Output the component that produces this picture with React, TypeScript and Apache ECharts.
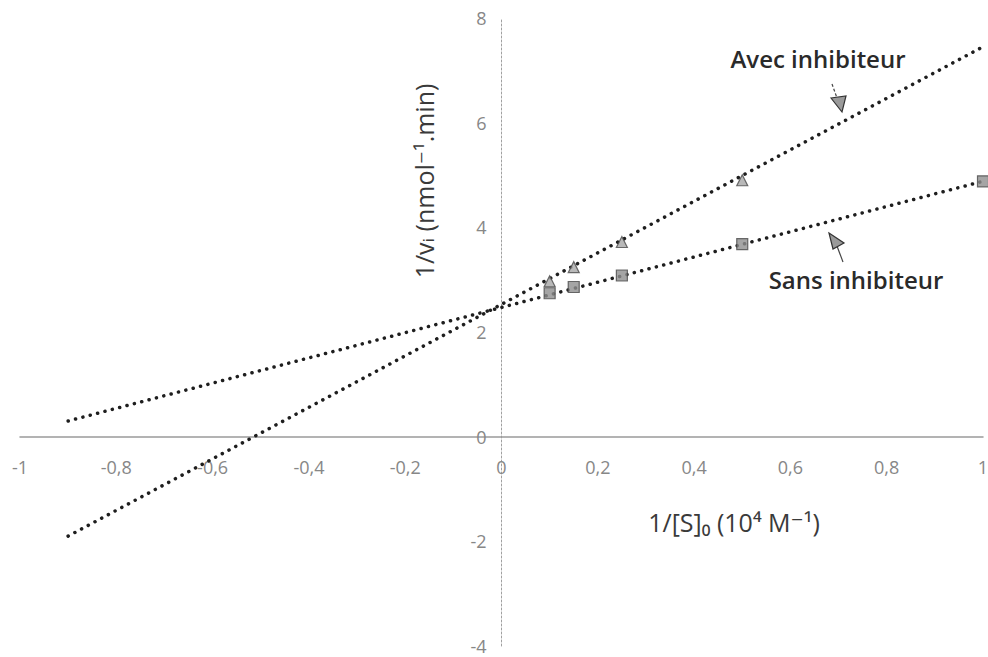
import React, { useEffect, useRef } from "react";
import * as echarts from "echarts";

const xTickLabels = ["-1", "-0,8", "-0,6", "-0,4", "-0,2", "0", "0,2", "0,4", "0,6", "0,8", "1"];
const yTickLabels = ["-4", "-2", "0", "2", "4", "6", "8"];

const sansX = [0.1, 0.15, 0.25, 0.5, 1.0];
const sansY = [2.74, 2.86, 3.08, 3.68, 4.88];
const avecX = [0.1, 0.15, 0.25, 0.5];
const avecY = [2.97, 3.24, 3.72, 4.9];

const trendX = [-0.9, 1.0];
const sansTrendY = [0.3, 4.88];
const avecTrendY = [-1.9, 7.45];

const FONT = "'Open Sans', 'DejaVu Sans', sans-serif";

const GRID_LEFT = 20;
const GRID_RIGHT = 5;
const GRID_TOP = 18;
const GRID_BOTTOM = 11;
const W = 988;
const H = 657;

export default function App() {
  const ref = useRef<HTMLDivElement>(null);
  useEffect(() => {
    if (!ref.current) return;
    const chart = echarts.init(ref.current, null, { renderer: "svg" });
    const plotW = W - GRID_LEFT - GRID_RIGHT;
    const plotH = H - GRID_TOP - GRID_BOTTOM;
    // offsets so the axes sit at zero of the other axis
    const xOffset = -(plotH * (0 - -4)) / (8 - -4);
    const yOffset = -(plotW * (0 - -1)) / (1 - -1);
    const dotted = { color: "#1e1e1e", width: 3.5, type: [0.1, 7.5] as any, cap: "round" as any };
    chart.setOption({
      animation: false,
      backgroundColor: "#ffffff",
      grid: {
        left: GRID_LEFT,
        right: GRID_RIGHT,
        top: GRID_TOP,
        bottom: GRID_BOTTOM,
        containLabel: false,
        outerBoundsMode: "none",
      },
      xAxis: {
        type: "value",
        min: -1,
        max: 1,
        interval: 0.2,
        position: "bottom",
        offset: xOffset,
        axisLine: { onZero: false, lineStyle: { color: "#9a9a9a", width: 1.5 } },
        axisTick: { show: false },
        splitLine: { show: false },
        axisLabel: {
          margin: 21,
          color: "#878787",
          fontSize: 18,
          fontFamily: FONT,
          formatter: (_v: number, i: number) => xTickLabels[i] ?? "",
        },
      },
      yAxis: {
        type: "value",
        min: -4,
        max: 8,
        interval: 2,
        position: "left",
        offset: yOffset,
        axisLine: { onZero: false, lineStyle: { color: "#a0a0a0", width: 1, type: [2, 2] } },
        axisTick: { show: false },
        splitLine: { show: false },
        axisLabel: {
          margin: 15,
          color: "#878787",
          fontSize: 18,
          fontFamily: FONT,
          formatter: (_v: number, i: number) => yTickLabels[i] ?? "",
        },
      },
      series: [
        {
          type: "line",
          name: "Sans inhibiteur (tendance)",
          data: trendX.map((x, i) => [x, sansTrendY[i]]),
          showSymbol: false,
          lineStyle: dotted,
          z: 2,
        },
        {
          type: "line",
          name: "Avec inhibiteur (tendance)",
          data: trendX.map((x, i) => [x, avecTrendY[i]]),
          showSymbol: false,
          lineStyle: dotted,
          z: 2,
        },
        {
          type: "scatter",
          name: "Sans inhibiteur",
          data: sansX.map((x, i) => [x, sansY[i]]),
          symbol: "rect",
          symbolSize: 11,
          itemStyle: { color: "#8f8f8f", borderColor: "#4a4a4a", borderWidth: 1.2 },
          z: 3,
        },
        {
          type: "scatter",
          name: "Avec inhibiteur",
          data: avecX.map((x, i) => [x, avecY[i]]),
          symbol: "triangle",
          symbolSize: 11,
          itemStyle: { color: "#a8a8a8", borderColor: "#4a4a4a", borderWidth: 1.2 },
          z: 3,
        },
      ],
      graphic: [
        {
          type: "text",
          x: 734,
          y: 522,
          style: {
            text: "1/[S]₀ (10⁴ M⁻¹)",
            fontSize: 25,
            fontFamily: FONT,
            fill: "#3a3a3a",
            align: "center",
            verticalAlign: "middle",
          },
        },
        {
          type: "text",
          x: 424,
          y: 181,
          rotation: Math.PI / 2,
          style: {
            text: "1/vᵢ (nmol⁻¹.min)",
            fontSize: 25,
            fontFamily: FONT,
            fill: "#3a3a3a",
            align: "center",
            verticalAlign: "middle",
          },
        },
        {
          type: "text",
          x: 818,
          y: 58,
          style: {
            text: "Avec inhibiteur",
            fontSize: 24,
            fontWeight: 600,
            fontFamily: FONT,
            fill: "#2a2a2a",
            align: "center",
            verticalAlign: "middle",
          },
        },
        {
          type: "text",
          x: 856,
          y: 279,
          style: {
            text: "Sans inhibiteur",
            fontSize: 24,
            fontWeight: 600,
            fontFamily: FONT,
            fill: "#2a2a2a",
            align: "center",
            verticalAlign: "middle",
          },
        },
        {
          type: "line",
          shape: { x1: 832, y1: 84, x2: 837, y2: 98 },
          style: { stroke: "#444", lineWidth: 1.2, lineDash: [3, 2] },
        },
        {
          type: "polygon",
          shape: { points: [[831, 98], [846, 96], [842, 112]] },
          style: { fill: "#9a9a9a", stroke: "#333", lineWidth: 1.2 },
        },
        {
          type: "line",
          shape: { x1: 837, y1: 246, x2: 843, y2: 262 },
          style: { stroke: "#444", lineWidth: 1.2 },
        },
        {
          type: "polygon",
          shape: { points: [[829, 233], [844, 243], [833, 249]] },
          style: { fill: "#9a9a9a", stroke: "#333", lineWidth: 1.2 },
        },
      ],
    });
    return () => chart.dispose();
  }, []);
  return (
    <div
      ref={ref}
      style={{ position: "fixed", left: 0, top: 0, width: W, height: H, background: "#fff" }}
    />
  );
}
